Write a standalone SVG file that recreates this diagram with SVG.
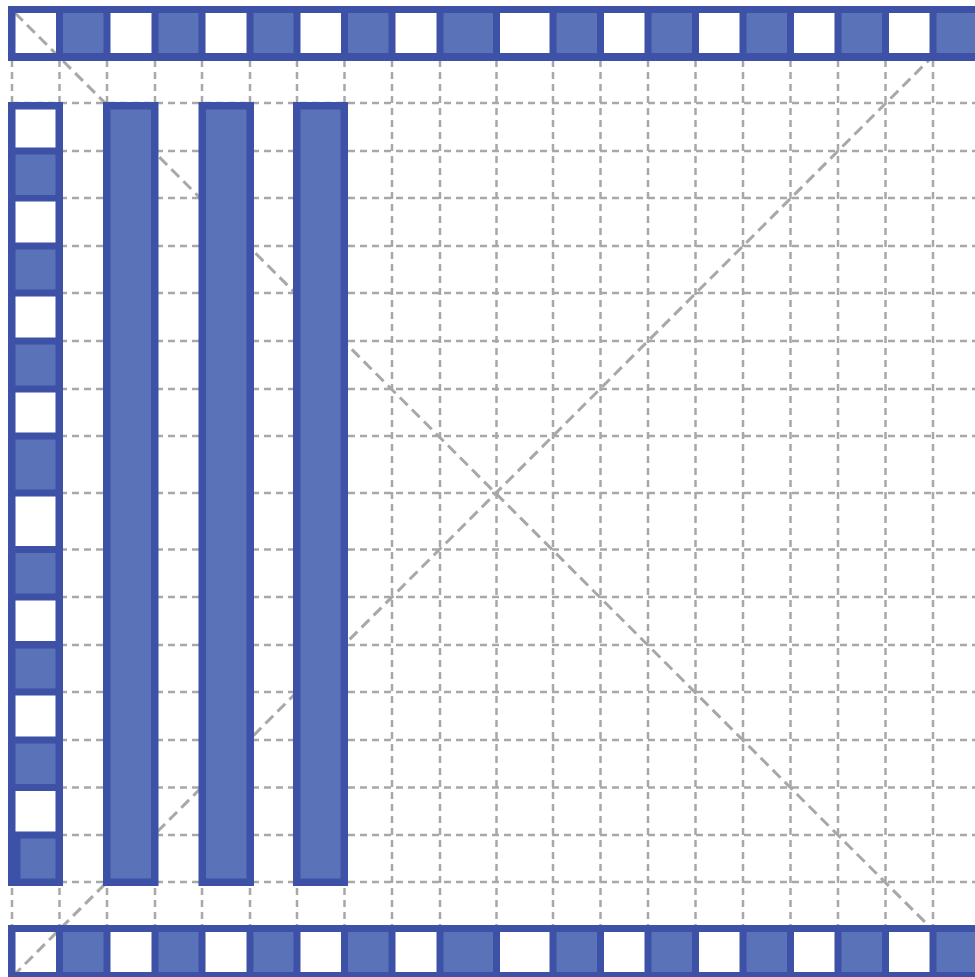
<svg xmlns="http://www.w3.org/2000/svg" width="975" height="977" viewBox="0 0 975 977">
  <style>
    .grid line { stroke: #A8A8A8; stroke-width: 2.5; stroke-dasharray: 7 5; fill: none; }
    .diag line { stroke: #A8A8A8; stroke-width: 3; stroke-dasharray: 11 6; fill: none; }
    .frame { fill: #3D51A6; fill-rule: evenodd; }
    .cell { fill: #5A72B8; }
    .pillar { fill: #5A72B8; stroke: #3D51A6; stroke-width: 7.5; }
  </style>
  <rect width="975" height="977" fill="#FFFFFF"/>
  <g id="grid" class="grid">
    <line x1="12" y1="12" x2="12" y2="975"/>
    <line x1="59.5" y1="12" x2="59.5" y2="975"/>
    <line x1="107" y1="12" x2="107" y2="975"/>
    <line x1="155" y1="12" x2="155" y2="975"/>
    <line x1="202" y1="12" x2="202" y2="975"/>
    <line x1="250" y1="12" x2="250" y2="975"/>
    <line x1="297" y1="12" x2="297" y2="975"/>
    <line x1="344.5" y1="12" x2="344.5" y2="975"/>
    <line x1="392" y1="12" x2="392" y2="975"/>
    <line x1="440" y1="12" x2="440" y2="975"/>
    <line x1="496.5" y1="12" x2="496.5" y2="975"/>
    <line x1="553" y1="12" x2="553" y2="975"/>
    <line x1="600.5" y1="12" x2="600.5" y2="975"/>
    <line x1="648" y1="12" x2="648" y2="975"/>
    <line x1="695.5" y1="12" x2="695.5" y2="975"/>
    <line x1="743" y1="12" x2="743" y2="975"/>
    <line x1="790.5" y1="12" x2="790.5" y2="975"/>
    <line x1="838" y1="12" x2="838" y2="975"/>
    <line x1="885.5" y1="12" x2="885.5" y2="975"/>
    <line x1="933" y1="12" x2="933" y2="975"/>
    <line x1="12" y1="103" x2="975" y2="103"/>
    <line x1="12" y1="151" x2="975" y2="151"/>
    <line x1="12" y1="198" x2="975" y2="198"/>
    <line x1="12" y1="246" x2="975" y2="246"/>
    <line x1="12" y1="293" x2="975" y2="293"/>
    <line x1="12" y1="341" x2="975" y2="341"/>
    <line x1="12" y1="389" x2="975" y2="389"/>
    <line x1="12" y1="436" x2="975" y2="436"/>
    <line x1="12" y1="493" x2="975" y2="493"/>
    <line x1="12" y1="549.5" x2="975" y2="549.5"/>
    <line x1="12" y1="597" x2="975" y2="597"/>
    <line x1="12" y1="645" x2="975" y2="645"/>
    <line x1="12" y1="692" x2="975" y2="692"/>
    <line x1="12" y1="740" x2="975" y2="740"/>
    <line x1="12" y1="787.5" x2="975" y2="787.5"/>
    <line x1="12" y1="835" x2="975" y2="835"/>
    <line x1="12" y1="882" x2="975" y2="882"/>
  </g>
  <g id="diagonals" class="diag">
    <line x1="15" y1="13" x2="980" y2="977"/>
    <line x1="13" y1="976" x2="978" y2="11"/>
  </g>
  <g id="top-bar">
    <path class="frame" d="M8 6H990V61H8Z M15.5 13h40.5v40h-40.5Z M110.5 13h41v40h-41Z M205.5 13h41v40h-41Z M300.5 13h40.5v40h-40.5Z M395.5 13h41v40h-41Z M500 13h49.5v40h-49.5Z M604 13h40.5v40h-40.5Z M699 13h40.5v40h-40.5Z M794 13h40.5v40h-40.5Z M889 13h40.5v40h-40.5Z"/>
    <rect class="cell" x="63" y="13" width="40.5" height="40"/>
    <rect class="cell" x="158.5" y="13" width="40" height="40"/>
    <rect class="cell" x="253.5" y="13" width="40" height="40"/>
    <rect class="cell" x="348" y="13" width="40.5" height="40"/>
    <rect class="cell" x="443.5" y="13" width="49.5" height="40"/>
    <rect class="cell" x="556.5" y="13" width="40.5" height="40"/>
    <rect class="cell" x="651.5" y="13" width="40.5" height="40"/>
    <rect class="cell" x="746.5" y="13" width="40.5" height="40"/>
    <rect class="cell" x="841.5" y="13" width="40.5" height="40"/>
    <rect class="cell" x="936.5" y="13" width="40.5" height="40"/>
  </g>
  <g id="bottom-bar">
    <path class="frame" d="M8 925H990V985H8Z M15.5 932h40.5v40h-40.5Z M110.5 932h41v40h-41Z M205.5 932h41v40h-41Z M300.5 932h40.5v40h-40.5Z M395.5 932h41v40h-41Z M500 932h49.5v40h-49.5Z M604 932h40.5v40h-40.5Z M699 932h40.5v40h-40.5Z M794 932h40.5v40h-40.5Z M889 932h40.5v40h-40.5Z"/>
    <rect class="cell" x="63" y="932" width="40.5" height="40"/>
    <rect class="cell" x="158.5" y="932" width="40" height="40"/>
    <rect class="cell" x="253.5" y="932" width="40" height="40"/>
    <rect class="cell" x="348" y="932" width="40.5" height="40"/>
    <rect class="cell" x="443.5" y="932" width="49.5" height="40"/>
    <rect class="cell" x="556.5" y="932" width="40.5" height="40"/>
    <rect class="cell" x="651.5" y="932" width="40.5" height="40"/>
    <rect class="cell" x="746.5" y="932" width="40.5" height="40"/>
    <rect class="cell" x="841.5" y="932" width="40.5" height="40"/>
    <rect class="cell" x="936.5" y="932" width="40.5" height="40"/>
  </g>
  <g id="left-column">
    <path class="frame" d="M8 102H63V886H8Z M15.5 109.5h40v38h-40Z M15.5 201.5h40v41h-40Z M15.5 296.5h40v41h-40Z M15.5 392.5h40v40h-40Z M15.5 496.5h40v49.5h-40Z M15.5 600.5h40v40.5h-40Z M15.5 695.5h40v41h-40Z M15.5 791h40v40.5h-40Z"/>
    <rect class="cell" x="15.5" y="154.5" width="40" height="40.5"/>
    <rect class="cell" x="15.5" y="249.5" width="40" height="40"/>
    <rect class="cell" x="15.5" y="344.5" width="40" height="41"/>
    <rect class="cell" x="15.5" y="439.5" width="40" height="50"/>
    <rect class="cell" x="15.5" y="553" width="40" height="40.5"/>
    <rect class="cell" x="15.5" y="648.5" width="40" height="40"/>
    <rect class="cell" x="15.5" y="743.5" width="40" height="40.5"/>
    <rect class="cell" x="20.5" y="838.5" width="35" height="40"/>
  </g>
  <g id="pillar-1">
    <rect class="pillar" x="106.75" y="105.75" width="48" height="776.5"/>
  </g>
  <g id="pillar-2">
    <rect class="pillar" x="202.25" y="105.75" width="48" height="776.5"/>
  </g>
  <g id="pillar-3">
    <rect class="pillar" x="296.75" y="105.75" width="47.5" height="776.5"/>
  </g>
</svg>
